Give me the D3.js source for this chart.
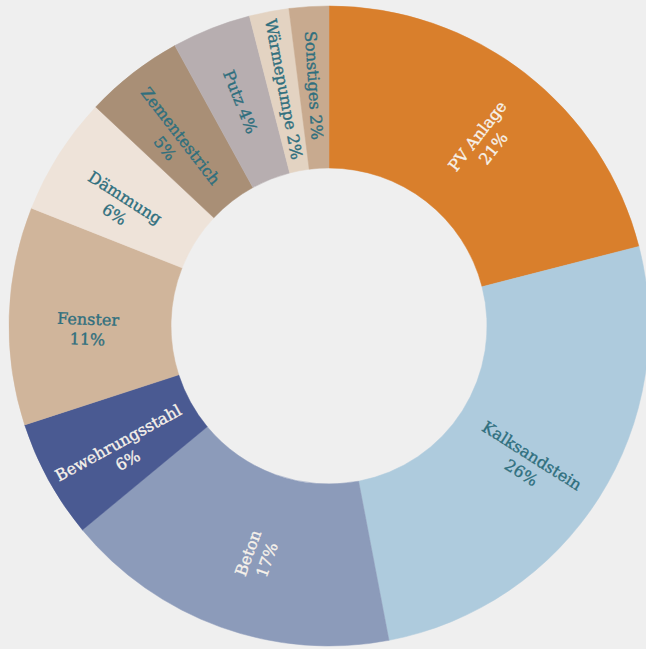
<!DOCTYPE html>
<html>
<head>
<meta charset="utf-8">
<script src="https://cdn.jsdelivr.net/npm/d3@7"></script>
<style>
    html, body { margin: 0; padding: 0; background: #efefef; }
    svg { display: block; }
    .label { font-family: "DejaVu Serif", serif; font-size: 16px; stroke-width: 0.35px; }
</style>
</head>
<body>
<script>
"use strict";

// slices, clockwise from 12 o'clock
const categories = ["PV Anlage", "Kalksandstein", "Beton", "Bewehrungsstahl", "Fenster",
                    "Dämmung", "Zementestrich", "Putz", "Wärmepumpe", "Sonstiges"];
const shares = [21, 26, 17, 6, 11, 6, 5, 4, 2, 2];
const lightLabels = ["PV Anlage", "Beton", "Bewehrungsstahl"];

const palette = ["#d97f2c", "#aecbdd", "#8c9bba", "#4a5a92", "#d0b59b",
                 "#eee3d9", "#a98f76", "#b7aeb0", "#e3d3c2", "#c8aa8f"];

const WIDTH = 646;
const HEIGHT = 649;
const CX = 329, CY = 326;
const R_OUT = 320, R_IN = 158, R_LABEL = 241;

let svg = d3.select("body")
            .append("svg")
            .attr("width", WIDTH)
            .attr("height", HEIGHT);

let color = d3.scaleOrdinal()
              .domain(categories)
              .range(palette);

let pie = d3.pie()
            .sort(null)
            .value((d, i) => shares[i]);

let arc = d3.arc()
            .innerRadius(R_IN)
            .outerRadius(R_OUT);

let g = svg.append("g")
           .attr("transform", "translate(" + CX + "," + CY + ")");

let arcs = pie(categories);

g.selectAll("path")
 .data(arcs)
 .enter()
 .append("path")
 .attr("d", arc)
 .attr("fill", d => color(d.data))
 .attr("stroke", d => color(d.data))
 .attr("stroke-width", 0.5);

// labels run along the radius, flipped so they never read upside down
function labelAngle(d)
{
    let mid = (d.startAngle + d.endAngle) / 2 * 180 / Math.PI;
    let rot = mid - 90;
    if (rot > 90)
        rot -= 180;
    return rot;
}

let labels = g.selectAll("text")
              .data(arcs)
              .enter()
              .append("text")
              .attr("class", "label")
              .attr("text-anchor", "middle")
              .attr("fill", d => lightLabels.includes(d.data) ? "#f6f1ea" : "#2f6f7e")
              .attr("stroke", d => lightLabels.includes(d.data) ? "#f6f1ea" : "#2f6f7e")
              .attr("transform", d =>
              {
                  let mid = (d.startAngle + d.endAngle) / 2;
                  let x = Math.sin(mid) * R_LABEL;
                  let y = -Math.cos(mid) * R_LABEL;
                  return "translate(" + x + "," + y + ") rotate(" + labelAngle(d) + ")";
              });

labels.each(function(d, i)
{
    let t = d3.select(this);
    let small = shares[i] <= 4;
    if (small)
    {
        t.append("tspan")
         .attr("x", 0)
         .attr("dy", "0.35em")
         .text(d.data + " " + shares[i] + "%");
    }
    else
    {
        t.append("tspan")
         .attr("x", 0)
         .attr("dy", "0.4em")
         .text(d.data);
        t.append("tspan")
         .attr("x", 0)
         .attr("dy", "1.25em")
         .text(shares[i] + "%");
    }
});
</script>
</body>
</html>
